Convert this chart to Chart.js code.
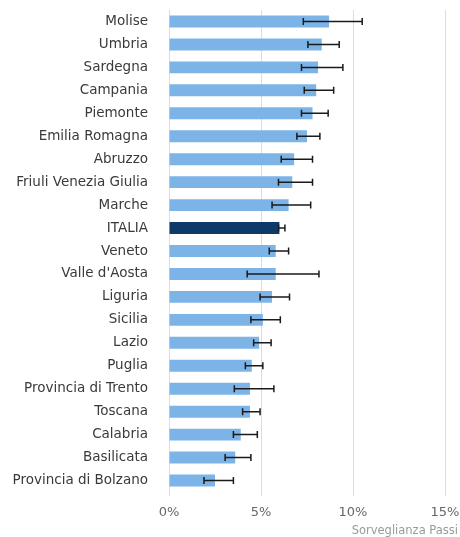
<!DOCTYPE html>
<html lang="it">
<head>
    <meta charset="UTF-8">
    <title>Sorveglianza Passi</title>
    <script src="https://cdn.jsdelivr.net/npm/chart.js"></script>
    <style>
        html, body { margin: 0; padding: 0; background: #fff; }
        #wrap { width: 460px; height: 537px; }
    </style>
</head>
<body>
    <div id="wrap"><canvas id="passiChart"></canvas></div>
    <script>
        // Regioni (ordine del grafico, dall'alto)
        const regioni = [
            "Molise", "Umbria", "Sardegna", "Campania", "Piemonte", "Emilia Romagna",
            "Abruzzo", "Friuli Venezia Giulia", "Marche", "ITALIA", "Veneto",
            "Valle d'Aosta", "Liguria", "Sicilia", "Lazio", "Puglia",
            "Provincia di Trento", "Toscana", "Calabria", "Basilicata", "Provincia di Bolzano"
        ];

        // Prevalenza stimata (%)
        const valori = [8.7, 8.3, 8.1, 8.0, 7.8, 7.5, 6.8, 6.7, 6.5, 6.0, 5.8,
                        5.8, 5.6, 5.1, 4.9, 4.5, 4.4, 4.4, 3.9, 3.6, 2.5];

        // Intervalli di confidenza (limite inferiore / superiore)
        const icInf = [7.3, 7.55, 7.2, 7.35, 7.2, 6.95, 6.1, 5.95, 5.6, 5.95, 5.45,
                       4.25, 4.95, 4.45, 4.6, 4.15, 3.55, 4.0, 3.5, 3.05, 1.9];
        const icSup = [10.5, 9.25, 9.45, 8.95, 8.65, 8.2, 7.8, 7.8, 7.7, 6.3, 6.5,
                       8.15, 6.55, 6.05, 5.55, 5.1, 5.7, 4.95, 4.8, 4.45, 3.5];

        const xTicks = [0, 5, 10, 15];

        // Disegna le barre di errore usando le scale del grafico
        const errorBars = {
            id: 'errorBars',
            afterDatasetsDraw(chart) {
                const ctx = chart.ctx;
                const xs = chart.scales.x;
                const ys = chart.scales.y;
                ctx.save();
                ctx.strokeStyle = '#1a1a1a';
                ctx.lineWidth = 1.5;
                regioni.forEach((r, i) => {
                    const y = ys.getPixelForValue(i);
                    const x1 = xs.getPixelForValue(icInf[i]);
                    const x2 = xs.getPixelForValue(icSup[i]);
                    ctx.beginPath();
                    ctx.moveTo(x1, y); ctx.lineTo(x2, y);
                    ctx.moveTo(x1, y - 3.5); ctx.lineTo(x1, y + 3.5);
                    ctx.moveTo(x2, y - 3.5); ctx.lineTo(x2, y + 3.5);
                    ctx.stroke();
                });
                ctx.restore();
            }
        };

        // Fonte in basso a destra
        const fonte = {
            id: 'fonte',
            afterDraw(chart) {
                const ctx = chart.ctx;
                ctx.save();
                ctx.font = '11.5px "DejaVu Sans"';
                ctx.fillStyle = '#999';
                ctx.textAlign = 'right';
                ctx.textBaseline = 'middle';
                ctx.fillText('Sorveglianza Passi', chart.width - 2, 531);
                ctx.restore();
            }
        };

        const ctx = document.getElementById('passiChart').getContext('2d');
        new Chart(ctx, {
            type: 'bar',
            data: {
                labels: regioni,
                datasets: [{
                    data: valori,
                    backgroundColor: regioni.map(r => r === 'ITALIA' ? '#0d3a69' : '#7db4e8'),
                    barPercentage: 0.52,
                    categoryPercentage: 1
                }]
            },
            options: {
                indexAxis: 'y',
                responsive: true,
                maintainAspectRatio: false,
                animation: false,
                layout: { padding: { top: 10, right: 15, bottom: 0, left: 0 } },
                plugins: {
                    legend: { display: false },
                    tooltip: { enabled: false }
                },
                scales: {
                    x: {
                        min: 0,
                        max: 15,
                        afterBuildTicks(scale) {
                            scale.ticks = xTicks.map(v => ({ value: v }));
                        },
                        afterFit(scale) {
                            scale.height = 45;
                            scale.paddingLeft = 0;
                            scale.paddingRight = 0;
                        },
                        border: { display: false },
                        grid: { color: '#dcdcdc', lineWidth: 1, tickLength: 4 },
                        ticks: {
                            padding: 9,
                            color: '#666',
                            font: { family: 'DejaVu Sans', size: 13 },
                            callback: v => v + '%'
                        }
                    },
                    y: {
                        afterFit(scale) {
                            scale.width = 169;
                            scale.paddingTop = 0;
                            scale.paddingBottom = 0;
                        },
                        border: { display: false },
                        grid: { display: false, drawTicks: false },
                        ticks: {
                            padding: 21,
                            color: '#3a3a3a',
                            font: { family: 'DejaVu Sans', size: 13.5 }
                        }
                    }
                }
            },
            plugins: [errorBars, fonte]
        });
    </script>
</body>
</html>
